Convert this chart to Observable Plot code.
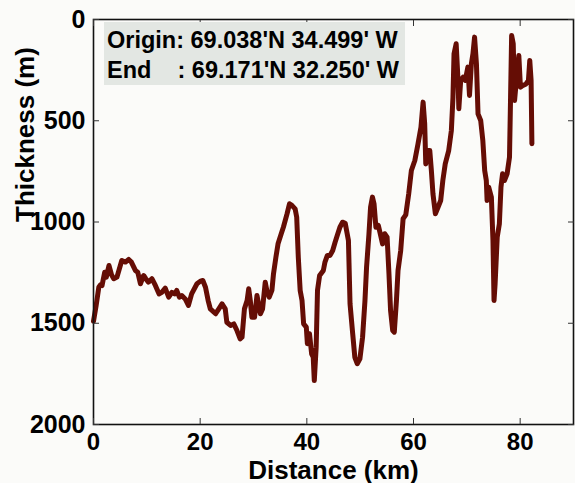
<!DOCTYPE html>
<html>
<head>
<meta charset="utf-8">
<script src="https://cdn.jsdelivr.net/npm/d3@7"></script>
<script src="https://cdn.jsdelivr.net/npm/@observablehq/plot@0.6"></script>
<style>
  html, body { margin: 0; padding: 0; background: #fbfbf9; }
  #wrap { position: relative; width: 575px; height: 483px; overflow: hidden; }
  #legend {
    position: absolute; left: 104px; top: 22px; width: 301px; height: 63px;
    background: #e3e7e3; box-sizing: border-box; padding: 3px 0 0 3px;
    font-family: "Liberation Sans", Arial, sans-serif; font-weight: bold;
    font-size: 23.5px; line-height: 30px; color: #000; white-space: pre;
  }
</style>
</head>
<body>
<div id="wrap"><div id="legend"></div></div>
<script>
const distanceKm = [0,0.5,1.0,1.3,1.6,2.1,2.4,2.9,3.4,3.8,4.4,5.3,6.0,6.6,7.1,7.85,8.3,8.8,9.4,9.8,10.3,10.95,11.6,12.3,12.8,13.45,14.1,14.7,15.2,15.6,16.1,16.55,17.2,17.8,18.4,19.4,20.05,20.5,21.0,21.5,21.9,22.9,23.5,24.1,24.7,25.0,25.7,26.3,26.9,27.5,27.85,28.3,28.8,29.1,29.4,29.7,30.2,30.65,30.95,31.3,31.7,32.2,32.5,32.95,33.45,33.75,34.2,34.6,35.2,35.6,36.3,36.75,37.2,37.8,38.1,38.4,38.75,39.1,39.4,39.9,40.1,40.5,40.9,41.2,41.4,41.75,42.0,42.4,43.1,43.4,43.85,44.35,44.85,45.3,45.7,46.2,46.7,47.2,47.8,48.1,48.6,49.0,49.45,49.95,50.45,50.9,51.2,51.65,51.95,52.3,52.6,52.95,53.4,53.7,54.2,54.6,55.05,55.4,55.7,56.1,56.4,56.8,57.1,57.6,58.05,58.55,59.1,59.6,60.25,60.85,61.4,61.8,62.1,62.3,62.6,63.05,63.35,63.65,64.1,64.6,65.1,65.5,65.95,66.6,67.1,67.4,67.6,68.0,68.35,68.5,68.85,69.3,69.7,70.2,70.5,70.85,71.15,71.45,71.8,72.1,72.6,73.0,73.35,73.65,73.8,74.1,74.6,74.9,75.1,75.3,75.7,76.1,76.4,76.7,77.05,77.55,78.0,78.2,78.4,78.7,78.95,79.45,79.75,80.05,80.5,81.1,81.55,81.8,82.05,82.2];
const thicknessM = [1490,1412,1322,1310,1314,1248,1272,1215,1262,1280,1272,1190,1198,1185,1198,1239,1248,1305,1264,1280,1297,1280,1313,1355,1347,1327,1371,1347,1355,1338,1371,1363,1380,1412,1355,1305,1292,1289,1322,1388,1429,1453,1429,1404,1429,1495,1511,1503,1536,1577,1569,1429,1388,1330,1388,1470,1470,1363,1404,1453,1429,1297,1338,1371,1338,1256,1174,1108,1058,1026,959,910,918,935,976,1174,1338,1388,1503,1519,1601,1552,1651,1668,1783,1618,1338,1264,1239,1198,1165,1165,1141,1100,1067,1026,1001,1006,1091,1404,1552,1668,1700,1676,1569,1388,1223,1058,927,877,910,1026,1017,1050,1108,1058,1075,1256,1437,1536,1544,1388,1239,1141,984,965,861,746,696,614,532,408,515,713,647,647,746,861,959,927,894,795,713,647,548,384,169,120,301,441,301,285,301,235,375,219,169,87,219,466,499,598,746,795,894,828,877,1091,1388,1305,1075,1009,828,762,795,762,680,384,79,120,400,252,178,334,326,318,301,202,301,614];
const xTicks = [0, 20, 40, 60, 80];
const yTicks = [0, 500, 1000, 1500, 2000];
const legendLines = ["Origin: 69.038'N 34.499' W", "End    : 69.171'N 32.250' W"];
const xLabel = "Distance (km)";
const yLabel = "Thickness (m)";

const data = distanceKm.map((d, i) => ({d, t: thicknessM[i]}));
const font = "'Liberation Sans', Arial, sans-serif";
const plain = d => String(d);

const chart = Plot.plot({
  width: 575, height: 483,
  marginLeft: 93, marginRight: 2, marginTop: 19, marginBottom: 59,
  x: {domain: [0, 90]},
  y: {domain: [0, 2000], reverse: true},
  style: {background: "#fbfbf9", fontFamily: font, fontWeight: "bold", fontSize: "25px", color: "#000"},
  marks: [
    Plot.line(data, {x: "d", y: "t", stroke: "#650d05", strokeWidth: 5, strokeLinejoin: "round", strokeLinecap: "round"}),
    Plot.frame({stroke: "#111", strokeWidth: 1.6}),
    Plot.axisX({ticks: xTicks, tickSize: 0, tickPadding: 8, tickFormat: plain, label: null, fontSize: 24, fontWeight: "bold"}),
    Plot.axisX({ticks: xTicks, tickSize: -6, tickFormat: () => "", label: null, stroke: "#333"}),
    Plot.axisX({ticks: xTicks, anchor: "top", tickSize: -6, tickFormat: () => "", label: null, stroke: "#333"}),
    Plot.axisY({ticks: yTicks, tickSize: 0, tickPadding: 8, tickFormat: plain, label: null, fontSize: 25, fontWeight: "bold"}),
    Plot.axisY({ticks: yTicks, tickSize: -6, tickFormat: () => "", label: null, stroke: "#333"}),
    Plot.axisY({ticks: yTicks, anchor: "right", tickSize: -6, tickFormat: () => "", label: null, stroke: "#333"}),
    Plot.text([yLabel], {frameAnchor: "left", rotate: -90, dx: -68, fontSize: 26, fontWeight: "bold", fill: "#000"}),
    Plot.text([xLabel], {frameAnchor: "bottom", dy: 54, fontSize: 26, fontWeight: "bold", fill: "#000"})
  ]
});
document.getElementById("wrap").prepend(chart);
document.getElementById("legend").textContent = legendLines.join("\n");
</script>
</body>
</html>
